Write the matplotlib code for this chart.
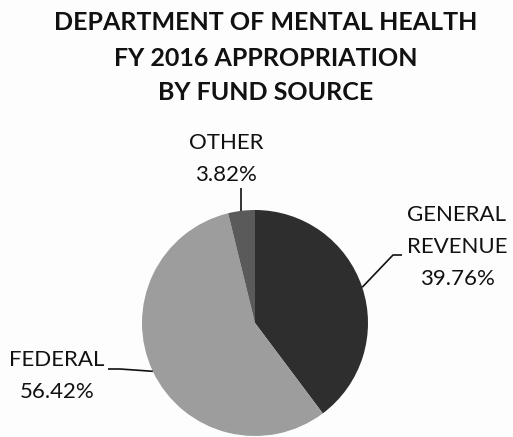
import numpy as np
import matplotlib.pyplot as plt

plt.rcParams['font.family'] = ['Lato', 'DejaVu Sans']

# FY 2016 appropriation shares by fund source (percent)
sources = ['GENERAL\nREVENUE', 'FEDERAL', 'OTHER']
shares = [39.76, 56.42, 3.82]
colors = ['#2e2e2e', '#9d9d9d', '#5a5a5a']
title_lines = ['DEPARTMENT OF MENTAL HEALTH', 'FY 2016 APPROPRIATION', 'BY FUND SOURCE']

W, H = 513, 437
fig = plt.figure(figsize=(W / 100, H / 100), dpi=100)
fig.patch.set_facecolor('#fdfdfd')
ax = fig.add_axes([0, 0, 1, 1])

cx, cy, r = 255, H - 323, 113
wedges, _ = ax.pie(shares, colors=colors, startangle=90, counterclock=False,
                   center=(cx, cy), radius=r, frame=True,
                   wedgeprops=dict(linewidth=0))
ax.set_xlim(0, W)
ax.set_ylim(0, H)
ax.set_aspect('equal')
ax.axis('off')

# title, one text per line
for i, line in enumerate(title_lines):
    ax.text(266, H - 23 - 35 * i, line, ha='center', va='center',
            fontsize=18, fontweight='bold', color='#111111')

def edge_point(w):
    a = np.deg2rad((w.theta1 + w.theta2) / 2)
    return cx + r * np.cos(a), cy + r * np.sin(a)

# label placement (text centre) and leader-line bends, in pixels
label_pos = [(457, H - 247), (57, H - 376), (226, H - 159)]
bends = [[(393, H - 255), (402, H - 255)],
         [(120, H - 369), (108, H - 369)],
         [None]]

for w, name, val, (tx, ty), bend in zip(wedges, sources, shares, label_pos, bends):
    ex, ey = edge_point(w)
    if bend[0] is None:
        xs, ys = [ex, ex], [ey, ey + 23]
    else:
        xs = [ex] + [p[0] for p in bend]
        ys = [ey] + [p[1] for p in bend]
    ax.plot(xs, ys, color='#111111', lw=1.2, solid_capstyle='butt')
    ax.text(tx, ty, '{}\n{:.2f}%'.format(name, val), ha='center', va='center',
            fontsize=16, color='#111111', linespacing=1.75)

fig.savefig('out.png', dpi=100, facecolor=fig.get_facecolor())
